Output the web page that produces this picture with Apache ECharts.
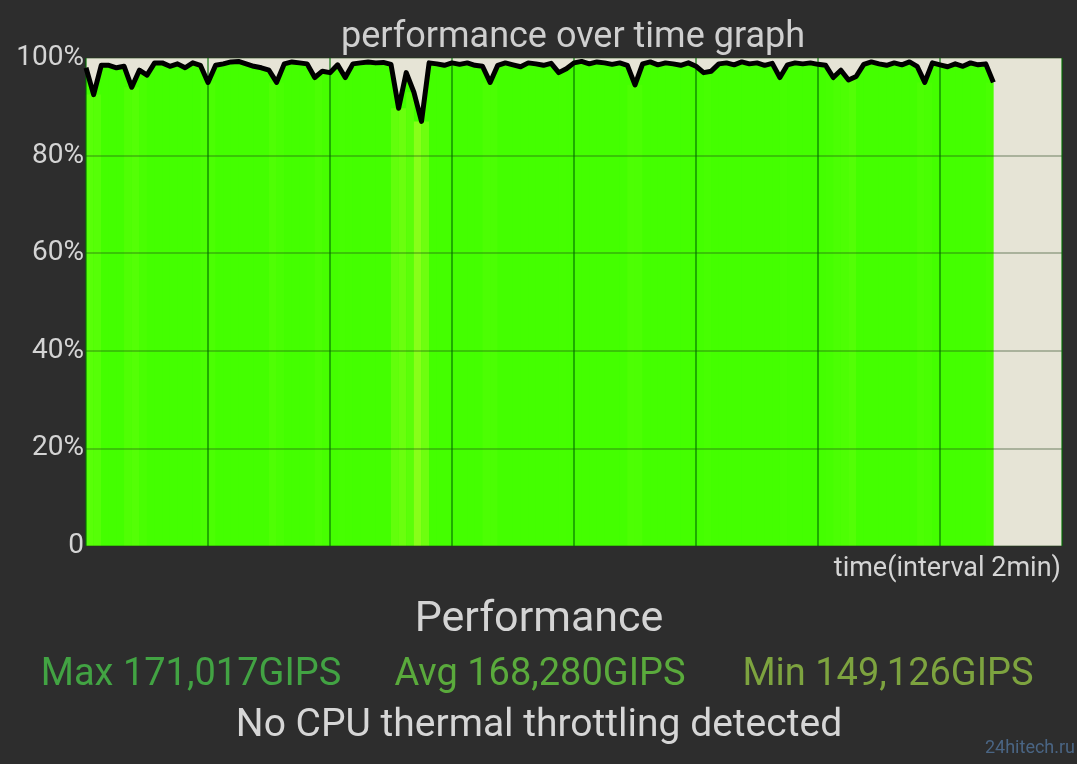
<!DOCTYPE html>
<html>
<head>
<meta charset="utf-8">
<script src="https://cdn.jsdelivr.net/npm/echarts@6/dist/echarts.min.js"></script>
<style>
html,body{margin:0;padding:0;background:#2d2d2d;}
#chart{width:1077px;height:764px;}
</style>
</head>
<body>
<div id="chart"></div>
<script>
// time in minutes between samples (1/8 min), grid every 2 min
const sampleStep = 0.125;
const xTicks = [0, 2, 4, 6, 8, 10, 12, 14, 16];
const yTicks = [0, 20, 40, 60, 80, 100];
// performance in % of max
const perfValues = [
  98, 92.5, 98.5, 98.5, 98, 98.3, 94, 97.5, 96.5, 99,
  99, 98.3, 98.8, 98, 99, 98.5, 95, 98.5, 98.8, 99.2,
  99.3, 98.8, 98.3, 98, 97.5, 95, 98.8, 99.2, 99, 98.8,
  96, 97.3, 97, 98.6, 96, 98.8, 99, 99.2, 99, 99.1,
  98.7, 89.7, 97, 93, 87, 99, 98.8, 98.5, 99, 98.7,
  99, 98.5, 98.3, 95, 98.5, 99, 98.6, 98.2, 99, 98.8,
  98.5, 98.9, 97, 97.8, 99, 99.3, 98.8, 99.2, 99, 98.7,
  99, 98.5, 94.5, 98.8, 99.2, 98.6, 99, 98.8, 98.5, 99,
  98.3, 97, 97.3, 98.8, 99, 98.6, 99.2, 98.8, 99, 98.5,
  98.9, 96, 98.6, 99, 98.8, 99, 98.7, 98.5, 96, 97.5,
  95.5, 96.2, 98.7, 99.2, 98.8, 98.5, 99, 98.6, 99.2, 98.3,
  95, 99, 98.6, 98.2, 98.8, 98.3, 99, 98.6, 98.8, 95
];
const titleText = 'performance over time graph';
const axisNameText = 'time(interval 2min)';
const headerText = 'Performance';
const statLabels = ['Max 171,017GIPS', 'Avg 168,280GIPS', 'Min 149,126GIPS'];
const footerText = 'No CPU thermal throttling detected';
const watermarkText = '24hitech.ru';

const points = perfValues.map((v, i) => [i * sampleStep, v]);
// colour stripes between consecutive samples (under the area edge)
const stripes = perfValues.slice(0, -1).map((v, i) => {
  const lo = Math.min(v, perfValues[i + 1]);
  const avg = (v + perfValues[i + 1]) / 2;
  return { value: [(i + 0.5) * sampleStep, lo], avg: avg };
});

function stripeColor(v) {
  const t = Math.max(0, Math.min(1, (97.5 - v) / 9));
  const a = [68, 255, 0], b = [150, 255, 30];
  const c = a.map((x, k) => Math.round(x + (b[k] - x) * t));
  return 'rgb(' + c.join(',') + ')';
}

const chart = echarts.init(document.getElementById('chart'));
chart.setOption({
  backgroundColor: '#2d2d2d',
  animation: false,
  grid: { left: 86, right: 15, top: 58, bottom: 218, backgroundColor: '#e6e4d6', show: true, borderWidth: 0 },
  xAxis: {
    type: 'value', min: xTicks[0], max: xTicks[xTicks.length - 1], interval: 2, z: 5,
    axisLine: { show: false }, axisTick: { show: false }, axisLabel: { show: false },
    splitLine: { show: true, lineStyle: { color: 'rgba(0,110,0,0.75)', width: 1.5 } }
  },
  yAxis: {
    type: 'value', min: yTicks[0], max: yTicks[yTicks.length - 1], interval: 20, z: 5,
    axisLine: { show: false }, axisTick: { show: false },
    axisLabel: {
      color: '#d4d4d4', fontFamily: 'Roboto', fontSize: 28, margin: 2,
      formatter: v => v === 0 ? '0' : v + '%'
    },
    splitLine: { show: true, lineStyle: { color: 'rgba(30,60,20,0.4)', width: 1.5 } }
  },
  series: [
    {
      type: 'line', data: points, showSymbol: false, z: 1, silent: true,
      lineStyle: { width: 0 }, areaStyle: { color: '#44ff00', opacity: 1 }
    },
    {
      type: 'bar', data: stripes.map(s => ({ value: s.value, itemStyle: { color: stripeColor(s.avg) } })),
      barWidth: 7.7, z: 2, silent: true
    },
    {
      type: 'line', data: points, showSymbol: false, z: 10, silent: true,
      lineStyle: { color: '#000', width: 5, join: 'round' }
    }
  ],
  graphic: [
    { type: 'text', style: { text: titleText, x: 573, y: 38, align: 'center', verticalAlign: 'middle', fill: '#cfcfcf', font: '36px Roboto' } },
    { type: 'text', style: { text: axisNameText, x: 1061, y: 569, align: 'right', verticalAlign: 'middle', fill: '#d4d4d4', font: '27px Roboto' } },
    { type: 'text', style: { text: headerText, x: 539, y: 620, align: 'center', verticalAlign: 'middle', fill: '#d4d4d4', font: '43px Roboto' } },
    { type: 'text', style: { text: statLabels[0], x: 191, y: 675, align: 'center', verticalAlign: 'middle', fill: '#42a343', font: '38px Roboto' } },
    { type: 'text', style: { text: statLabels[1], x: 540, y: 675, align: 'center', verticalAlign: 'middle', fill: '#5aaa3c', font: '38px Roboto' } },
    { type: 'text', style: { text: statLabels[2], x: 888, y: 675, align: 'center', verticalAlign: 'middle', fill: '#7da33f', font: '38px Roboto' } },
    { type: 'text', style: { text: footerText, x: 539, y: 726, align: 'center', verticalAlign: 'middle', fill: '#d6d6d6', font: '39px Roboto' } },
    { type: 'text', style: { text: watermarkText, x: 1030, y: 748, align: 'center', verticalAlign: 'middle', fill: '#4a6584', font: '18px Roboto' } }
  ]
});
</script>
</body>
</html>
